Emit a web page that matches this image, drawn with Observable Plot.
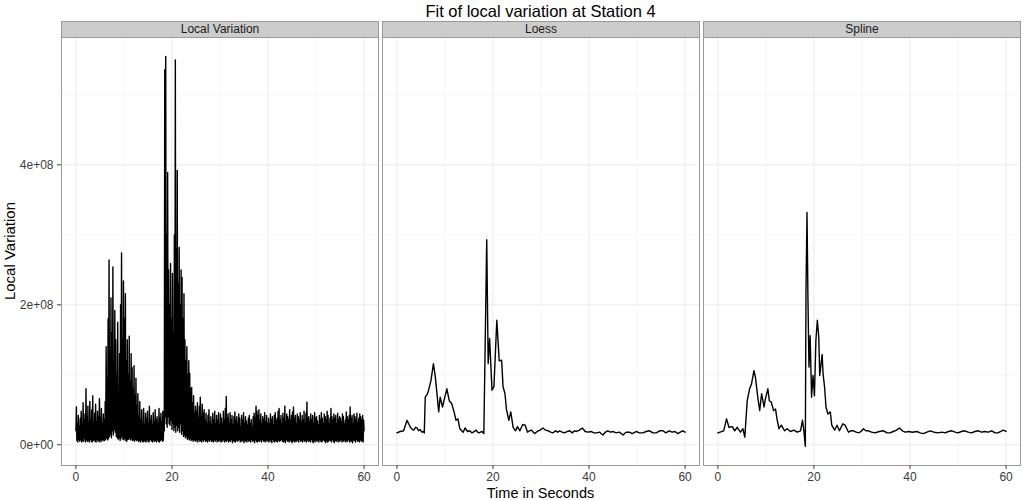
<!DOCTYPE html>
<html>
<head>
<meta charset="utf-8">
<script src="https://cdn.jsdelivr.net/npm/d3@7"></script>
<script src="https://cdn.jsdelivr.net/npm/@observablehq/plot@0.6"></script>
<style>
  html, body { margin: 0; padding: 0; background: #ffffff; }
  #chart { width: 1024px; height: 500px; }
</style>
</head>
<body>
<div id="chart"></div>
<script>
// ---------- data ----------
const panels = ["Local Variation", "Loess", "Spline"];

// raw local variation (millions), sampled every rawStep seconds from rawStart (one row = one second)
const rawStart = 0;
const rawStep = 0.1;
const rawValues = [
  20,54,6,30,4,42,8,25,5,38,
  7,48,4,28,6,60,5,35,9,44,
  4,80,7,40,5,55,6,30,4,62,
  8,36,5,50,4,70,6,28,7,45,
  5,58,4,33,8,48,5,40,6,66,
  4,38,7,52,5,30,8,44,6,35,
  6,62,8,140,10,95,7,180,9,264,
  12,130,15,210,10,160,20,254,14,120,
  22,192,18,150,12,100,10,175,8,60,
  10,130,6,200,9,274,12,150,8,234,
  7,180,10,216,6,120,5,150,8,100,
  8,155,10,90,7,130,9,110,6,80,
  7,113,5,70,8,95,6,55,7,73,
  5,40,6,62,4,35,7,50,5,30,
  4,52,6,28,5,45,4,38,7,48,
  5,30,4,55,6,35,8,42,5,28,
  4,46,7,32,5,50,6,36,4,40,
  7,30,5,52,4,38,6,45,8,33,
  5,48,6,35,20,536,40,555,30,300,
  25,389,40,250,30,200,28,259,35,180,
  22,245,30,160,20,300,25,550,18,280,
  28,392,20,230,25,282,18,200,30,250,
  15,239,20,180,12,216,14,150,10,120,
  12,140,8,100,10,120,7,102,9,80,
  6,82,8,60,5,70,7,45,6,55,
  5,48,7,60,4,38,8,55,5,68,
  6,40,4,58,7,45,5,50,8,35,
  5,45,6,30,4,42,7,50,5,33,
  8,40,5,28,6,45,4,36,7,48,
  5,30,8,42,4,35,6,46,5,28,
  7,44,4,38,6,30,5,48,8,36,
  4,52,6,69,5,38,7,44,4,30,
  6,46,5,36,8,42,3,28,6,40,
  5,47,4,35,7,40,5,30,6,44,
  8,38,4,25,6,42,5,35,7,46,
  3,30,6,40,5,34,4,28,7,38,
  5,42,6,30,4,36,8,25,5,40,
  6,45,3,38,7,55,5,48,4,42,
  6,50,5,35,7,44,4,30,8,40,
  5,36,6,46,4,32,7,42,5,30,
  6,38,4,30,7,44,5,36,3,40,
  8,28,5,42,4,46,6,34,5,38,
  4,48,7,52,5,36,6,42,8,30,
  5,45,4,38,6,55,3,33,7,44,
  5,40,6,36,4,50,7,35,5,42,
  3,47,6,54,5,38,4,42,6,30,
  5,44,7,40,4,36,8,46,5,32,
  6,42,4,35,7,48,5,30,6,45,
  4,61,7,38,5,40,6,33,4,44,
  8,36,5,42,3,30,6,46,4,38,
  7,40,5,34,6,28,4,42,8,36,
  5,46,4,38,6,30,7,44,5,40,
  3,36,6,48,4,42,5,30,7,38,
  6,52,4,40,8,35,5,44,3,38,
  6,42,5,30,7,45,4,36,6,40,
  5,38,8,33,4,44,6,40,5,30,
  7,35,4,47,6,40,5,36,8,42,
  4,54,6,38,5,42,3,30,7,44,
  6,40,4,36,8,45,5,32,6,38,
  4,44,7,40,5,36,6,42,4,35,
  20
];

// loess fit (seconds, millions)
const loessT = [0,0.7,1.4,2.1,2.8,3.2,3.5,3.9,4.2,4.5,4.8,5.2,5.5,5.7,
  5.9,6.3,6.6,7.1,7.6,8.0,8.3,8.7,9.0,9.5,9.9,10.4,10.9,11.4,11.9,12.3,12.7,13.1,13.8,14.2,14.7,15.2,15.6,15.9,16.5,16.8,17.1,17.7,18.1,
  18.7,19.0,19.3,19.8,20.2,20.8,21.3,21.8,22.1,22.5,22.8,23.3,23.7,24.2,24.7,25.1,25.6,26.2,26.7,27.2,27.6,28.0,28.4,28.7,29.2,29.8,
  30.4,30.9,31.5,32.0,32.5,33.0,33.5,33.9,34.4,34.9,35.5,36.0,36.5,37.0,37.4,38.0,38.6,39.2,39.8,40.5,41.0,41.5,42.2,42.9,43.4,43.9,
  44.5,45.0,45.6,46.3,47.1,47.7,48.4,49.0,49.8,50.5,51.2,51.9,52.6,53.3,54.0,54.7,55.4,56.0,56.7,57.3,57.9,58.5,59.0,59.5,60];
const loessV = [17,19,20,35,25,22,21,25,24,20,22,18,19,17,
  68,72,78,92,116,97,76,47,68,54,66,80,63,59,47,35,37,23,18,24,19,20,17,18,21,18,17,19,16,
  293,116,152,78,83,178,120,121,83,73,51,35,47,25,20,26,20,29,28,18,20,21,18,16,19,21,
  24,21,20,18,17,20,18,20,18,17,19,20,17,20,19,21,24,19,18,19,17,17,18,14,18,20,
  18,19,17,18,14,18,18,16,19,17,17,19,20,17,17,20,20,17,20,18,19,16,18,20,18];

// smoothing spline fit (seconds, millions)
const splineT = [0,1.2,1.8,2.3,3.0,3.5,4.0,4.7,5.2,5.6,
  6.1,6.6,7.0,7.5,7.8,8.3,8.7,9.1,9.6,9.9,10.4,10.7,11.1,11.6,12.0,12.3,12.7,13.2,13.9,14.4,15.1,15.8,16.5,17.2,17.6,17.9,18.2,
  18.34,18.55,18.75,18.96,19.2,19.5,19.8,20.1,20.4,20.7,21.0,21.2,21.7,21.9,22.2,22.5,22.9,23.4,23.7,24.3,24.8,25.3,26.0,26.5,27.2,
  27.7,28.2,28.8,29.3,29.8,30.3,30.8,31.3,32.0,32.7,33.6,34.5,35.2,35.8,36.5,37.2,37.8,38.4,39.0,39.7,40.5,41.4,42.1,42.8,43.5,44.2,
  45.0,45.9,46.6,47.3,48.0,48.7,49.4,50.0,50.7,51.4,52.1,52.8,53.5,54.2,54.9,55.6,56.3,57.0,57.7,58.3,58.9,59.4,60];
const splineV = [17,20,37,25,26,20,25,18,23,11,
  63,80,87,106,97,68,49,73,54,66,80,63,61,49,51,37,23,28,20,23,19,21,18,20,35,20,-2,
  220,332,206,111,156,68,99,70,149,178,154,99,129,101,83,54,44,47,28,21,28,20,30,28,18,
  20,20,18,17,19,23,20,20,18,17,19,20,17,17,19,21,24,20,18,19,18,19,17,16,18,20,
  18,17,18,17,19,20,18,17,19,20,18,17,19,20,18,19,18,20,17,17,19,21,19];

// axes
const xTicks = [0, 20, 40, 60];
const xMinor = [10, 30, 50];
const yTicks = [0, 200, 400];          // millions
const yMinor = [100, 300, 500];
const yTickLabels = ["0e+00", "2e+08", "4e+08"];
const xDomain = [-3, 63];
const yDomain = [-29.6, 582];

const titleText = "Fit of local variation at Station 4";
const xLabel = "Time in Seconds";
const yLabel = "Local Variation";

// ---------- build rows ----------
const rawRows = rawValues.map((v, i) => ({panel: panels[0], t: rawStart + i * rawStep, v}));
const loessRows = loessT.map((t, i) => ({panel: panels[1], t, v: loessV[i]}));
const splineRows = splineT.map((t, i) => ({panel: panels[2], t, v: splineV[i]}));

// ---------- layout ----------
const W = 1024, H = 500;
const mt = 37, mb = 35, ml = 60, mr = 3;
const font = "'Liberation Sans', Arial, Helvetica, sans-serif";

const chart = Plot.plot({
  width: W,
  height: H,
  marginTop: mt,
  marginBottom: mb,
  marginLeft: ml,
  marginRight: mr,
  style: {fontFamily: font, fontSize: "12px", background: "#ffffff", overflow: "visible"},
  fx: {domain: panels, paddingInner: 0.012, paddingOuter: 0, axis: null, label: null},
  x: {domain: xDomain, label: null},
  y: {domain: yDomain, label: null},
  marks: [
    Plot.gridX(xMinor, {stroke: "#f6f6f6", strokeOpacity: 1, strokeWidth: 1}),
    Plot.gridY(yMinor, {stroke: "#f6f6f6", strokeOpacity: 1, strokeWidth: 1}),
    Plot.gridX(xTicks, {stroke: "#ebebeb", strokeOpacity: 1, strokeWidth: 1}),
    Plot.gridY(yTicks, {stroke: "#ebebeb", strokeOpacity: 1, strokeWidth: 1}),
    Plot.line(rawRows, {x: "t", y: "v", fx: "panel", stroke: "#000000", strokeWidth: 1.4}),
    Plot.line(loessRows, {x: "t", y: "v", fx: "panel", stroke: "#000000", strokeWidth: 1.4}),
    Plot.line(splineRows, {x: "t", y: "v", fx: "panel", stroke: "#000000", strokeWidth: 1.4}),
    Plot.frame({stroke: "#9a9a9a", strokeWidth: 1}),
    Plot.frame({fill: "#cccccc", stroke: "#9a9a9a", strokeWidth: 1, insetTop: -16, insetBottom: H - mt - mb}),
    Plot.text(panels, {fx: d => d, text: d => d, frameAnchor: "top", lineAnchor: "middle", dy: -8, fill: "#1a1a1a", fontSize: 12}),
    Plot.axisX({ticks: xTicks, tickSize: 4, tickPadding: 3, color: "#3c3c3c", fontSize: 12, label: null}),
    Plot.axisY({ticks: yTicks, tickSize: 4, tickPadding: 4, color: "#3c3c3c", fontSize: 12, label: null,
      tickFormat: d => yTickLabels[yTicks.indexOf(d)]})
  ]
});

document.getElementById("chart").appendChild(chart);

// ---------- titles ----------
const svg = d3.select(chart);
const cx = (ml + W - mr) / 2;
svg.append("text")
  .attr("x", cx).attr("y", 17)
  .attr("text-anchor", "middle")
  .attr("font-family", font).attr("font-size", 16.5).attr("fill", "#000")
  .text(titleText);
svg.append("text")
  .attr("x", cx).attr("y", 497.5)
  .attr("text-anchor", "middle")
  .attr("font-family", font).attr("font-size", 14.5).attr("fill", "#000")
  .text(xLabel);
svg.append("text")
  .attr("transform", `translate(15,${(mt + H - mb) / 2}) rotate(-90)`)
  .attr("text-anchor", "middle")
  .attr("font-family", font).attr("font-size", 15).attr("fill", "#000")
  .text(yLabel);
</script>
</body>
</html>
